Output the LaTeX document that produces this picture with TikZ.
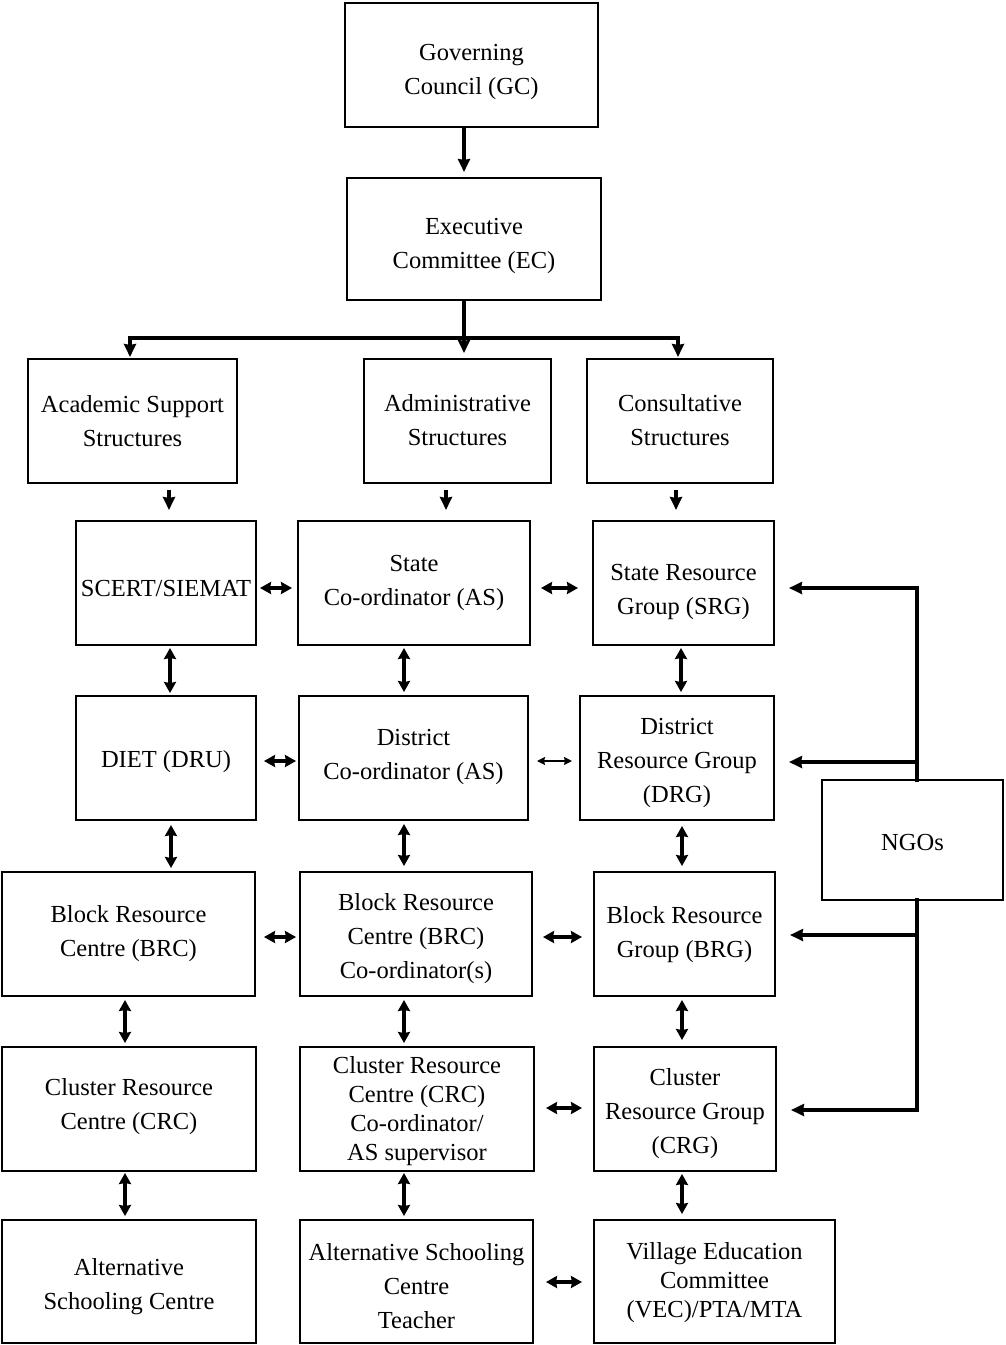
\documentclass[tikz,border=0pt]{standalone}
\usepackage{fontspec}
\setmainfont{Liberation Serif}
\usetikzlibrary{arrows.meta}
\begin{document}
\begin{tikzpicture}[x=1pt,y=-1pt,
  box/.style={draw, line width=1.9pt, inner sep=0pt, outer sep=0pt, align=center,
    font=\fontsize{24.5}{34}\selectfont},
  tight/.style={font=\fontsize{24.5}{29}\selectfont},
  lb/.style={text depth=0pt, text height=#1},
  one/.style={-{Stealth[length=13pt,width=12pt,inset=1pt]}, line width=3.6pt},
  dbl/.style={{Stealth[length=11pt,width=12pt,inset=1pt]}-{Stealth[length=11pt,width=12pt,inset=1pt]}, line width=3.4pt},
  thin/.style={{Stealth[length=8pt,width=8pt,inset=1pt]}-{Stealth[length=8pt,width=8pt,inset=1pt]}, line width=1.8pt},
  thk/.style={line width=3.6pt}]
\useasboundingbox (0,0) rectangle (1005,1345);

\node[box, lb=59pt, minimum width=253, minimum height=124] (gc) at (471.5,65) {Governing\\Council (GC)};
\node[box, lb=59pt, minimum width=254, minimum height=122] (ec) at (474,239) {Executive\\Committee (EC)};

\node[box, lb=51pt, minimum width=209, minimum height=124] (acad) at (132.5,421) {Academic Support\\Structures};
\node[box, lb=49pt, minimum width=187, minimum height=124] (adm) at (457.5,421) {Administrative\\Structures};
\node[box, lb=49pt, minimum width=186, minimum height=124] (cons) at (680,421) {Consultative\\Structures};

\node[box, lb=27pt, minimum width=180, minimum height=124] (scert) at (166,583) {SCERT/SIEMAT};
\node[box, lb=45pt, minimum width=232, minimum height=124] (stc) at (414,583) {State\\Co-ordinator (AS)};
\node[box, lb=63pt, minimum width=181, minimum height=124] (srg) at (683.5,583) {State Resource\\Group (SRG)};

\node[box, lb=19pt, minimum width=180, minimum height=124] (diet) at (166,758) {DIET (DRU)};
\node[box, lb=43pt, minimum width=229, minimum height=124] (dtc) at (413.5,758) {District\\Co-ordinator (AS)};
\node[box, lb=89pt, minimum width=194, minimum height=124] (drg) at (677,758) {District\\Resource Group\\(DRG)};

\node[box, lb=45pt, minimum width=253, minimum height=124] (brc) at (128.5,934) {Block Resource\\Centre (BRC)};
\node[box, lb=89pt, minimum width=232, minimum height=124] (brcc) at (416,934) {Block Resource\\Centre (BRC)\\Co-ordinator(s)};
\node[box, lb=47pt, minimum width=181, minimum height=124] (brg) at (684.5,934) {Block Resource\\Group (BRG)};

\node[box, lb=41pt, minimum width=254, minimum height=124] (crc) at (129,1109) {Cluster Resource\\Centre (CRC)};
\node[box, tight, lb=103pt, minimum width=234, minimum height=124] (crcc) at (417,1109) {Cluster Resource\\Centre (CRC)\\Co-ordinator/\\AS supervisor};
\node[box, lb=89pt, minimum width=182, minimum height=124] (crg) at (685,1109) {Cluster\\Resource Group\\(CRG)};

\node[box, lb=56pt, minimum width=254, minimum height=123] (asc) at (129,1281.5) {Alternative\\Schooling Centre};
\node[box, lb=94pt, minimum width=233, minimum height=123] (asct) at (416.5,1281.5) {Alternative Schooling\\Centre\\Teacher};
\node[box, tight, lb=72pt, minimum width=241, minimum height=123] (vec) at (714.5,1281.5) {Village Education\\Committee\\(VEC)/PTA/MTA};

\node[box, lb=21pt, minimum width=181, minimum height=120] (ngo) at (912.5,840) {NGOs};

% top
\draw[one, shorten >=6pt] (gc.south -| 464,0) -- (ec.north -| 464,0);
\coordinate (bl) at (130,338);
\coordinate (br) at (678,338);
\draw[thk, line cap=rect] (bl) -- (br);
\draw[one, shorten >=6pt] (ec.south -| 464,0) -- (adm.north -| 464,0);
\draw[one, shorten >=2pt] (bl) -- (acad.north -| bl);
\draw[one, shorten >=2pt] (br) -- (cons.north -| br);

% level 2 to level 3
\draw[one, shorten <=7pt, shorten >=11pt] (acad.south -| 169,0) -- (scert.north -| 169,0);
\draw[one, shorten <=7pt, shorten >=11pt] (adm.south -| 446,0) -- (stc.north -| 446,0);
\draw[one, shorten <=7pt, shorten >=11pt] (cons.south -| 676,0) -- (srg.north -| 676,0);

% horizontal
\draw[dbl, shorten <=4pt, shorten >=6pt] (scert.east |- 0,588) -- (stc.west |- 0,588);
\draw[dbl, shorten <=11pt, shorten >=15pt] (stc.east |- 0,588) -- (srg.west |- 0,588);
\draw[dbl, shorten <=8pt, shorten >=3pt] (diet.east |- 0,761) -- (dtc.west |- 0,761);
\draw[thin, shorten <=9pt, shorten >=8pt] (dtc.east |- 0,761) -- (drg.west |- 0,761);
\draw[dbl, shorten <=9pt, shorten >=4pt] (brc.east |- 0,937) -- (brcc.west |- 0,937);
\draw[dbl, shorten <=11pt, shorten >=12pt] (brcc.east |- 0,937) -- (brg.west |- 0,937);
\draw[dbl, shorten <=12pt, shorten >=12pt] (crcc.east |- 0,1108) -- (crg.west |- 0,1108);
\draw[dbl, shorten <=13pt, shorten >=12pt] (asct.east |- 0,1282) -- (vec.west |- 0,1282);

% vertical
\draw[dbl, shorten <=3pt, shorten >=3pt] (scert.south -| 170,0) -- (diet.north -| 170,0);
\draw[dbl, shorten <=3pt, shorten >=4pt] (stc.south -| 404,0) -- (dtc.north -| 404,0);
\draw[dbl, shorten <=3pt, shorten >=4pt] (srg.south -| 681,0) -- (drg.north -| 681,0);
\draw[dbl, shorten <=5pt, shorten >=4pt] (diet.south -| 171,0) -- (brc.north -| 171,0);
\draw[dbl, shorten <=4pt, shorten >=6pt] (dtc.south -| 404,0) -- (brcc.north -| 404,0);
\draw[dbl, shorten <=6pt, shorten >=6pt] (drg.south -| 682,0) -- (brg.north -| 682,0);
\draw[dbl, shorten <=4pt, shorten >=4pt] (brc.south -| 125,0) -- (crc.north -| 125,0);
\draw[dbl, shorten <=4pt, shorten >=4pt] (brcc.south -| 404,0) -- (crcc.north -| 404,0);
\draw[dbl, shorten <=4pt, shorten >=7pt] (brg.south -| 682,0) -- (crg.north -| 682,0);
\draw[dbl, shorten <=2pt, shorten >=4pt] (crc.south -| 125,0) -- (asc.north -| 125,0);
\draw[dbl, shorten <=2pt, shorten >=4pt] (crcc.south -| 404,0) -- (asct.north -| 404,0);
\draw[dbl, shorten <=3pt, shorten >=6pt] (crg.south -| 682,0) -- (vec.north -| 682,0);

% NGOs
\coordinate (n1) at (917,588);
\coordinate (n2) at (917,762);
\coordinate (n3) at (917,935);
\coordinate (n4) at (917,1110);
\draw[thk, line cap=rect] (ngo.north -| n1) -- (n1);
\draw[thk, line cap=rect] (ngo.south -| n4) -- (n4);
\draw[one, shorten >=15pt] (n1) -- (srg.east |- n1);
\draw[one, shorten >=15pt] (n2) -- (drg.east |- n2);
\draw[one, shorten >=15pt] (n3) -- (brg.east |- n3);
\draw[one, shorten >=15pt] (n4) -- (crg.east |- n4);
\end{tikzpicture}
\end{document}
